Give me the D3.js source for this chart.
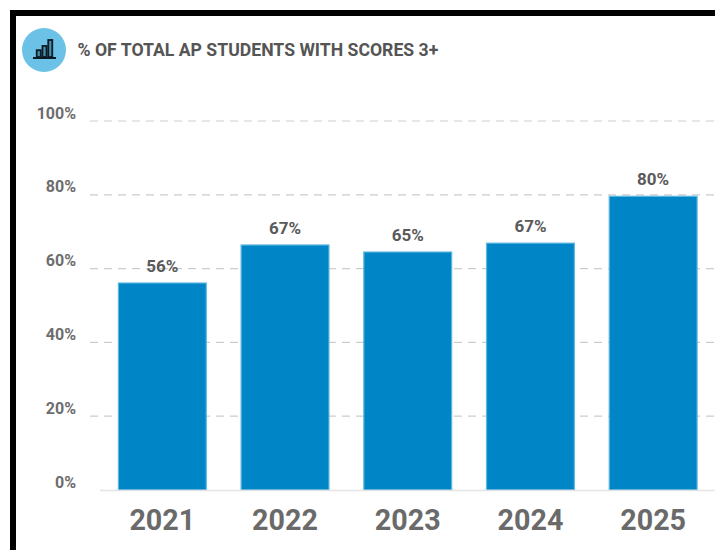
<!DOCTYPE html>
<html><head><meta charset="utf-8">
<script src="https://cdn.jsdelivr.net/npm/d3@7"></script>
<style>html,body{margin:0;padding:0;background:#fff;overflow:hidden}svg{display:block}text{font-family:Roboto,sans-serif;font-weight:700}</style>
</head><body><svg id="c" width="715" height="550"></svg>
<script>
const years = ["2021","2022","2023","2024","2025"];
const values = [56.1,66.4,64.5,66.9,79.6];
const labels = ["56%","67%","65%","67%","80%"];
const yTicks = [0,20,40,60,80,100];
const title = "% OF TOTAL AP STUDENTS WITH SCORES 3+";
const iconBars = [40,65,100];

const svg = d3.select("#c");
svg.append("path").attr("d","M13,550V13H715").attr("fill","none").attr("stroke","#000").attr("stroke-width",6);

const x = d3.scaleBand().domain(years).range([100.5,715]).paddingInner(0.284).paddingOuter(0.146);
const y = d3.scaleLinear().domain([0,100]).range([490,121]);

// header
svg.append("circle").attr("cx",44).attr("cy",50).attr("r",22).attr("fill","#6cc1e6");
const ih = d3.scaleLinear().domain([0,100]).range([0,17]);
const ix = d3.scaleBand().domain(iconBars).range([35,54]).padding(0.3);
const ig = svg.append("g");
ig.selectAll("rect").data(iconBars).join("rect")
  .attr("x",d=>ix(d)).attr("width",ix.bandwidth()).attr("y",d=>57-ih(d)).attr("height",d=>ih(d))
  .attr("fill","#4a8fae").attr("stroke","#0b1a24").attr("stroke-width",1.8);
ig.append("line").attr("x1",33).attr("x2",56).attr("y1",58).attr("y2",58).attr("stroke","#0b1a24").attr("stroke-width",2);
svg.append("text").attr("x",77.5).attr("y",56).attr("font-size",17.65).attr("font-weight",600).attr("fill","#555").text(title);

// grid
svg.append("g").selectAll("line").data(yTicks.filter(d=>d>0)).join("line")
  .attr("x1",90).attr("x2",715).attr("y1",d=>y(d)).attr("y2",d=>y(d))
  .attr("stroke","#cdcdcd").attr("stroke-width",1.2).attr("stroke-dasharray","8 6");

// y labels
svg.append("g").selectAll("text").data(yTicks).join("text")
  .attr("x",76).attr("y",d=>y(d)-2.5).attr("text-anchor","end").attr("font-size",16).attr("fill","#6d6d6d")
  .text(d=>d+"%");

// bars
svg.append("g").selectAll("rect").data(values).join("rect")
  .attr("x",(d,i)=>x(years[i])).attr("width",x.bandwidth())
  .attr("y",d=>y(d)).attr("height",d=>y(0)-y(d))
  .attr("fill","#0085c7").attr("stroke","#5cb8e0").attr("stroke-width",1.2);

svg.append("line").attr("x1",100).attr("x2",715).attr("y1",490.5).attr("y2",490.5).attr("stroke","#e4e4e4").attr("stroke-width",1.5);

// value labels
svg.append("g").selectAll("text").data(values).join("text")
  .attr("x",(d,i)=>x(years[i])+x.bandwidth()/2).attr("y",d=>y(d)-11)
  .attr("text-anchor","middle").attr("font-size",17).attr("fill","#5a5a5a")
  .text((d,i)=>labels[i]);

// x labels
svg.append("g").selectAll("text").data(years).join("text")
  .attr("x",d=>x(d)+x.bandwidth()/2).attr("y",530).attr("text-anchor","middle")
  .attr("font-size",28.7).attr("fill","#6a6a6a").text(d=>d);
</script></body></html>
